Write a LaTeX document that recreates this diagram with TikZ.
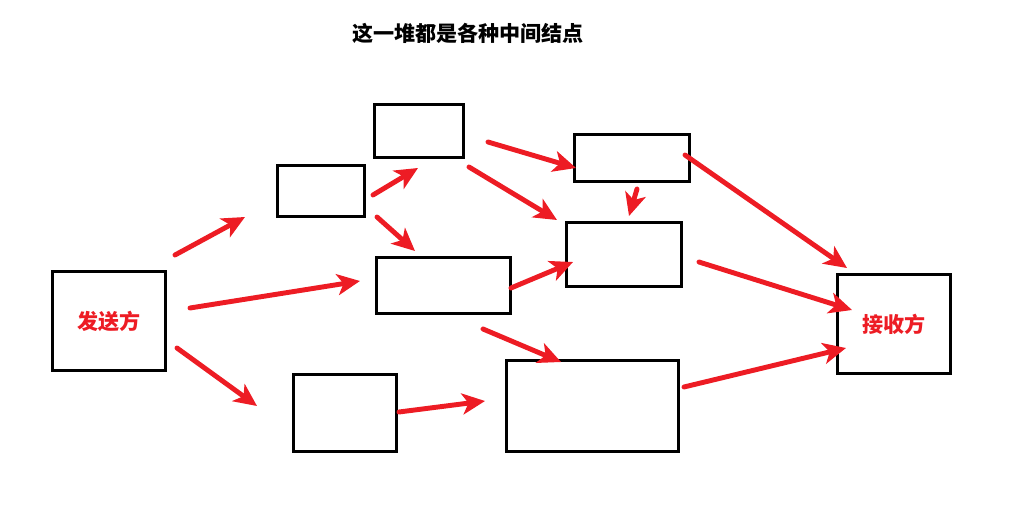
\documentclass[tikz,border=0pt]{standalone}
\usepackage{fontspec}
\newfontfamily\cjk{Noto Sans CJK SC}
\usetikzlibrary{calc, arrows.meta}
\definecolor{arrowred}{RGB}{237,28,36}

\begin{document}
\begin{tikzpicture}[
        x=0.02cm, y=-0.02cm,
        font=\cjk\bfseries\fontsize{12pt}{14pt}\selectfont,
        >={Stealth[length=13pt, width=12pt, inset=3.5pt]},
        box/.style={
            draw=black,
            line width=1.7pt,
            inner sep=0pt
        },
        arrow/.style={->, draw=arrowred, line width=2.8pt, line cap=round}
    ]

    \useasboundingbox (0,0) rectangle (1014,513);

    % Title
    \node (title) at (468,33) {这一堆都是各种中间结点};

    % Ends
    \node[box, minimum width=2.26cm, minimum height=1.98cm, text=arrowred] (sender) at (109,321) {发送方};
    \node[box, minimum width=2.26cm, minimum height=1.98cm, text=arrowred] (receiver) at (894,324) {接收方};

    % Middle nodes
    \node[box, minimum width=1.74cm, minimum height=1.02cm] (hopa) at (321,191) {};
    \node[box, minimum width=1.78cm, minimum height=1.06cm] (hopb) at (419,131) {};
    \node[box, minimum width=2.68cm, minimum height=1.12cm] (hopc) at (443.5,285.5) {};
    \node[box, minimum width=2.06cm, minimum height=1.54cm] (hopd) at (345,413) {};
    \node[box, minimum width=2.30cm, minimum height=0.94cm] (hope) at (632,158) {};
    \node[box, minimum width=2.30cm, minimum height=1.28cm] (hopf) at (624,254.5) {};
    \node[box, minimum width=3.44cm, minimum height=1.82cm] (hopg) at (592.5,406) {};

    % Arrows
    \draw[arrow] ($(sender.north east)+(8,-15)$) -- ($(hopa.south west)+(-31,-1)$);
    \draw[arrow] ($(sender.east)+(23,-13)$) -- ($(hopc.west)+(-15,-4.5)$);
    \draw[arrow] ($(sender.east)+(10,27)$) -- ($(hopd.north west)+(-35,33)$);

    \draw[arrow] ($(hopa.east)+(7,4)$) -- ($(hopb.south)+(-1,9)$);
    \draw[arrow] ($(hopa.south east)+(11,-1)$) -- ($(hopc.north west)+(40,-5)$);

    \draw[arrow] ($(hopb.east)+(23,11)$) -- ($(hope.west)+(3,10)$);
    \draw[arrow] ($(hopb.south east)+(4,8)$) -- ($(hopf.north west)+(-8,-1)$);

    \draw[arrow] ($(hope.south)+(5,6)$) -- ($(hopf.north)+(5,-5)$);
    \draw[arrow] ($(hope.east)+(-6,-3)$) -- ($(receiver.north west)+(11,-5)$);

    \draw[arrow] ($(hopc.east)+(-1,2.5)$) -- ($(hopf.west)+(8,7.5)$);
    \draw[arrow] ($(hopc.south east)+(-29,14)$) -- ($(hopg.north west)+(56,3)$);

    \draw[arrow] ($(hopf.east)+(16,7.5)$) -- ($(receiver.west)+(16,-14)$);
    \draw[arrow] ($(hopd.east)+(1,-1)$) -- ($(hopg.west)+(-20,-5)$);
    \draw[arrow] ($(hopg.east)+(4,-19)$) -- ($(receiver.west)+(10,24)$);

\end{tikzpicture}
\end{document}
